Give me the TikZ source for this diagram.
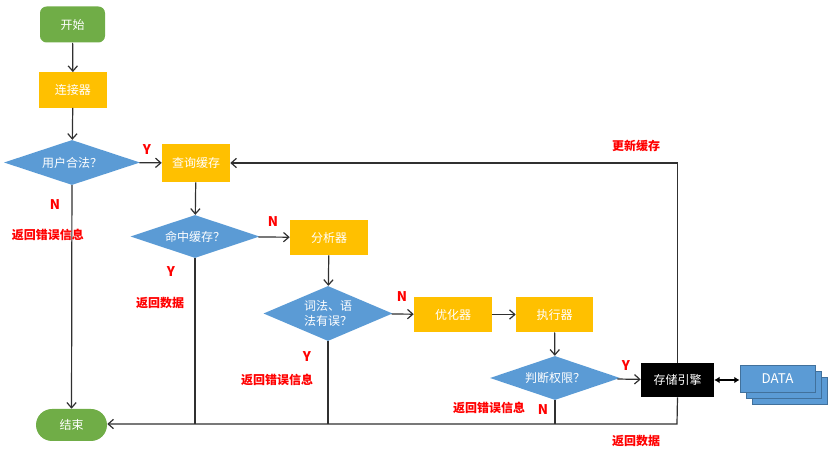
\documentclass[tikz,border=0pt]{standalone}
\usepackage{fontspec}
\setmainfont{Noto Sans CJK SC}
\usetikzlibrary{shapes.geometric,arrows.meta}
\definecolor{gr}{HTML}{70AD47}
\definecolor{yl}{HTML}{FFC000}
\definecolor{bl}{HTML}{5B9BD5}
\definecolor{bld}{HTML}{41719C}
\definecolor{ln}{HTML}{303030}
\begin{document}
\begin{tikzpicture}[x=0.75pt,y=-0.75pt,
  every node/.style={font=\fontsize{9pt}{11pt}\selectfont, text=white, inner sep=0pt},
  term/.style={fill=gr, rounded corners=#1, minimum width=48.75pt, minimum height=27pt},
  proc/.style={fill=yl, minimum height=26.5pt},
  dec/.style={diamond, fill=bl, shape aspect=2.6, inner sep=0pt},
  lab/.style={text=red, font=\fontsize{9pt}{11pt}\selectfont\bfseries},
  yn/.style={text=red, font=\fontsize{10pt}{12pt}\selectfont\bfseries},
  conn/.style={draw=ln, line width=0.9pt},
  arr/.style={conn, -{Straight Barb[length=4pt,width=7pt]}},
  dstack/.style={fill=bl, draw=bld, line width=0.6pt, minimum width=56.25pt, minimum height=20.25pt}]
\useasboundingbox (0,0) rectangle (833,466);

% nodes
\node[term=5pt] (start) at (72.5,24.5) {开始};
\node[proc, minimum width=51pt] (conn) at (73,90) {连接器};
\node[dec, minimum width=102pt, minimum height=33.75pt] (user) at (72,162.5) {用户合法？};
\node[proc, minimum width=51pt, minimum height=28.5pt] (query) at (196,163) {查询缓存};
\node[dec, minimum width=96.75pt, minimum height=32.25pt] (hit) at (195,236.5) {命中缓存？};
\node[proc, minimum width=58.5pt] (parse) at (329,237.5) {分析器};
\node[dec, minimum width=96.75pt, minimum height=41.25pt, align=center, shape aspect=2.4] (lex) at (328,313.5) {词法、语\\法有误？};
\node[proc, minimum width=58.5pt] (opt) at (453,314.5) {优化器};
\node[proc, minimum width=57.75pt] (exec) at (554.5,314.5) {执行器};
\node[dec, minimum width=97.5pt, minimum height=33pt] (perm) at (555,378) {判断权限？};
\node[fill=black, minimum width=54.75pt, minimum height=25.5pt] (store) at (677.5,380) {存储引擎};
\node[dstack] (data3) at (789.5,391) {};
\node[dstack] (data2) at (783.5,384.5) {};
\node[dstack, font=\fontsize{10pt}{12pt}\selectfont] (data) at (777.5,378.5) {DATA};
\node[term=12pt, minimum width=53.25pt, minimum height=24pt] (end) at (71.5,425) {结束};

% junctions
\coordinate (jb) at (677,424);
\coordinate (j1) at (195,424);
\coordinate (j2) at (328,424);
\coordinate (j3) at (555,424);

% connectors
\draw[arr] (start) -- (conn);
\draw[arr] (conn) -- (user);
\draw[arr] (user) -- (query);
\draw[arr] (user) -- (end);
\draw[arr] (query) -- (hit);
\draw[arr] (hit) -- (parse);
\draw[arr] (parse) -- (lex);
\draw[arr] (lex) -- (opt);
\draw[arr] (opt) -- (exec);
\draw[arr] (exec) -- (perm);
\draw[arr] (perm) -- (store);
\draw[conn] (hit.south) -- (j1);
\draw[conn] (lex.south) -- (j2);
\draw[conn] (perm.south) -- (j3);
\draw[arr] (store.south) -- (jb) -- (end.east |- jb);
\draw[arr] (store.north) |- (query.east);
\draw[draw=black, line width=2pt, {Latex[length=4pt,width=5pt]}-{Latex[length=4pt,width=5pt]}] (store.east) -- (data.west |- store.east);

% labels
\node[yn] (y1) at (147,150) {Y};
\node[yn] (n1) at (55,205) {N};
\node[lab] (l1) at (48,235) {返回错误信息};
\node[yn] (n2) at (273,222) {N};
\node[yn] (y2) at (171,272) {Y};
\node[lab] (l2) at (160,303) {返回数据};
\node[yn] (n3) at (402,297) {N};
\node[yn] (y3) at (307,357) {Y};
\node[lab] (l3) at (277,380) {返回错误信息};
\node[yn] (y4) at (626,366) {Y};
\node[yn] (n4) at (543,410) {N};
\node[lab] (l4) at (489,408) {返回错误信息};
\node[lab] (l5) at (636,146) {更新缓存};
\node[lab] (l6) at (636,441) {返回数据};
\end{tikzpicture}
\end{document}
